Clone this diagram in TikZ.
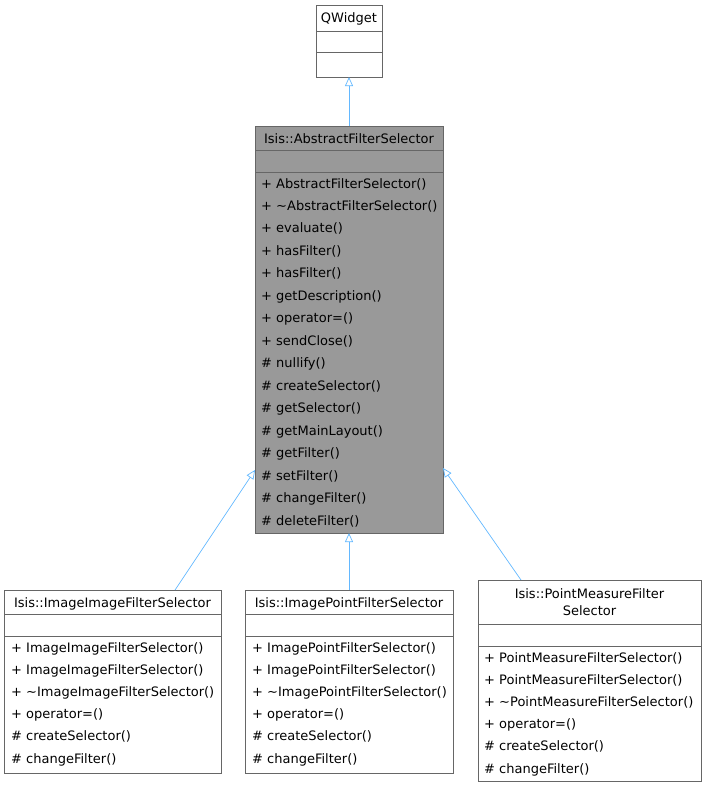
\documentclass[tikz,border=0pt]{standalone}
\usepackage{fontspec}
\setmainfont{DejaVu Sans}
\usetikzlibrary{arrows.meta}
\definecolor{edgeblue}{HTML}{63B8FF}
\definecolor{boxline}{HTML}{666666}
\begin{document}
\begin{tikzpicture}[x=1pt,y=-1pt,
  box/.style={draw=boxline,line width=0.8pt},
  txt/.style={font=\fontsize{13}{15}\selectfont,anchor=base west,inner sep=0pt},
  ctxt/.style={font=\fontsize{13}{15}\selectfont,anchor=base,inner sep=0pt},
  inh/.style={draw=edgeblue,line width=0.7pt,-{Triangle[open,length=9pt,width=8pt]}}]
\useasboundingbox (0,0) rectangle (706,787);
% QWidget
\draw[box,fill=white] (316,5) rectangle (382,77);
\draw[box] (316,31)--(382,31) (316,52)--(382,52);
\node[ctxt] (qw) at (349,23) {QWidget};
\coordinate (qwb) at (349,77);
% Abstract
\draw[box,fill=black!40] (255,126) rectangle (443,533);
\draw[box] (255,150)--(443,150) (255,172)--(443,172);
\node[ctxt] (abs) at (349,143) {Isis::AbstractFilterSelector};
\coordinate (abst) at (349,126);
\coordinate (absb) at (349,533);
\coordinate (absl) at (255,470);
\coordinate (absr) at (443,468);
\foreach \t [count=\i from 0] in {+ AbstractFilterSelector(),+ \textasciitilde AbstractFilterSelector(),+ evaluate(),+ hasFilter(),+ hasFilter(),+ getDescription(),+ operator=(),+ sendClose(),\# nullify(),\# createSelector(),\# getSelector(),\# getMainLayout(),\# getFilter(),\# setFilter(),\# changeFilter(),\# deleteFilter()}
  \node[txt] at (261,188+\i*22.47) {\t};
% ImageImage
\draw[box,fill=white] (4,590) rectangle (221,773);
\draw[box] (4,614)--(221,614) (4,636)--(221,636);
\node[ctxt] (ii) at (112.5,607) {Isis::ImageImageFilterSelector};
\coordinate (iit) at (175,590);
\foreach \t [count=\i from 0] in {+ ImageImageFilterSelector(),+ ImageImageFilterSelector(),+ \textasciitilde ImageImageFilterSelector(),+ operator=(),\# createSelector(),\# changeFilter()}
  \node[txt] at (11,652+\i*22.2) {\t};
% ImagePoint
\draw[box,fill=white] (245,590) rectangle (453,773);
\draw[box] (245,614)--(453,614) (245,636)--(453,636);
\node[ctxt] (ip) at (349,607) {Isis::ImagePointFilterSelector};
\coordinate (ipt) at (349,590);
\foreach \t [count=\i from 0] in {+ ImagePointFilterSelector(),+ ImagePointFilterSelector(),+ \textasciitilde ImagePointFilterSelector(),+ operator=(),\# createSelector(),\# changeFilter()}
  \node[txt] at (252,652+\i*22.2) {\t};
% PointMeasure
\draw[box,fill=white] (478,580) rectangle (701,781);
\draw[box] (478,624)--(701,624) (478,646)--(701,646);
\node[ctxt] (pm) at (589.5,598) {Isis::PointMeasureFilter};
\node[ctxt] at (589.5,615) {Selector};
\coordinate (pmt) at (521,580);
\foreach \t [count=\i from 0] in {+ PointMeasureFilterSelector(),+ PointMeasureFilterSelector(),+ \textasciitilde PointMeasureFilterSelector(),+ operator=(),\# createSelector(),\# changeFilter()}
  \node[txt] at (484,662+\i*22.2) {\t};
% edges
\draw[inh] (abst)--(qwb);
\draw[inh] (iit)--(absl);
\draw[inh] (ipt)--(absb);
\draw[inh] (pmt)--(absr);
\end{tikzpicture}
\end{document}
